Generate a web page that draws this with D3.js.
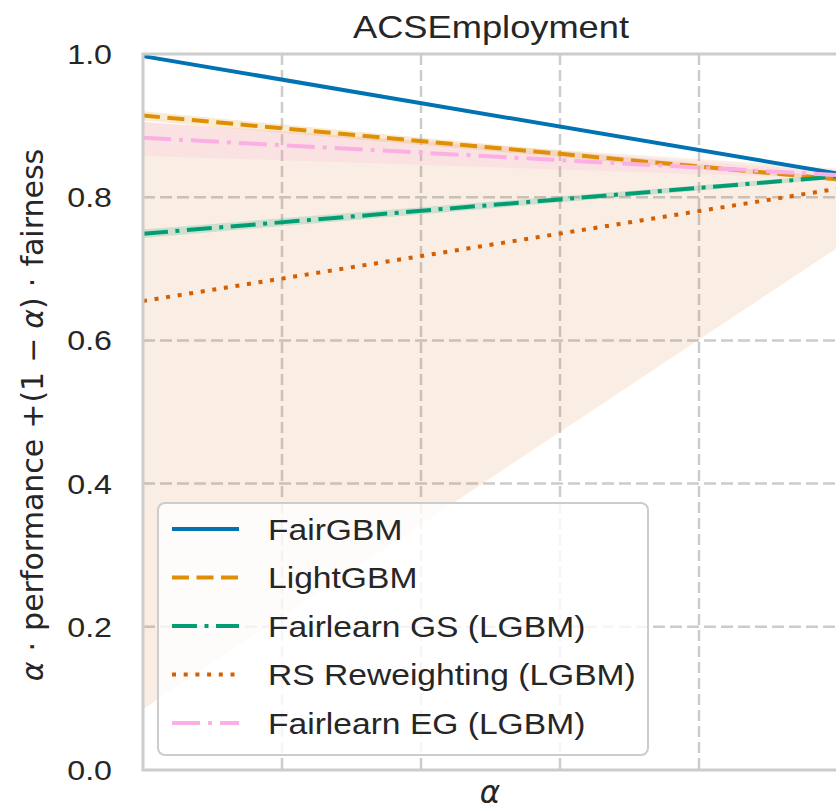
<!DOCTYPE html>
<html>
<head>
<meta charset="utf-8">
<script src="https://cdn.jsdelivr.net/npm/d3@7"></script>
<style>
  html, body { margin: 0; padding: 0; background: #fff; }
  svg { display: block; font-family: "Liberation Sans", Arial, sans-serif; }
</style>
</head>
<body>
<svg id="chart" width="836" height="811"></svg>
<script>
// values read at alpha = 0 and alpha = 1
const alphas = [0, 1];
const seriesNames = ["FairGBM", "LightGBM", "Fairlearn GS (LGBM)", "RS Reweighting (LGBM)", "Fairlearn EG (LGBM)"];
const fairgbmMean = [0.997, 0.833];
const fairgbmLo = [0.995, 0.831];
const fairgbmHi = [0.999, 0.835];
const lightgbmMean = [0.914, 0.825];
const lightgbmLo = [0.907, 0.822];
const lightgbmHi = [0.92, 0.828];
const gsMean = [0.749, 0.829];
const gsLo = [0.743, 0.826];
const gsHi = [0.755, 0.832];
const rsMean = [0.655, 0.812];
const rsLo = [0.085, 0.73];
const rsHi = [0.905, 0.84];
const egMean = [0.883, 0.831];
const egLo = [0.858, 0.826];
const egHi = [0.905, 0.836];
const yTicks = [0.0, 0.2, 0.4, 0.6, 0.8, 1.0];
const xGrid = [0.2, 0.4, 0.6, 0.8];

const colors = ["#0173b2", "#de8f05", "#029e73", "#d55e00", "#fbafe4"];
const dashes = [null, "17,7.5", "25,7.5,4,7.5", "4,7.7", "28,8,4,8"];

const series = [
  { mean: fairgbmMean, lo: fairgbmLo, hi: fairgbmHi },
  { mean: lightgbmMean, lo: lightgbmLo, hi: lightgbmHi },
  { mean: gsMean, lo: gsLo, hi: gsHi },
  { mean: rsMean, lo: rsLo, hi: rsHi },
  { mean: egMean, lo: egLo, hi: egHi }
].map((s, i) => ({ ...s, name: seriesNames[i], color: colors[i], dash: dashes[i] }));

const pLeft = 143, pRight = 838, pTop = 54, pBottom = 770;

const x = d3.scaleLinear().domain([0, 1]).range([pLeft, pRight]);
const y = d3.scaleLinear().domain([0, 1]).range([pBottom, pTop]);

const svg = d3.select("#chart");
const textCol = "#262626";

// text is a bit wider in the picture than plain Arial
function htext(g, xx, yy, str, size, anchor, sx) {
  return g.append("text")
    .attr("transform", `translate(${xx},${yy}) scale(${sx},1)`)
    .attr("text-anchor", anchor)
    .attr("font-size", size)
    .attr("fill", textCol)
    .text(str);
}

// grid
const grid = svg.append("g");
grid.selectAll("line.h").data(yTicks.slice(1, -1)).join("line")
  .attr("x1", pLeft).attr("x2", pRight)
  .attr("y1", d => y(d)).attr("y2", d => y(d))
  .attr("stroke", "#cccccc").attr("stroke-width", 2.5).attr("stroke-dasharray", "12,5");
grid.selectAll("line.v").data(xGrid).join("line")
  .attr("x1", d => x(d)).attr("x2", d => x(d))
  .attr("y1", pTop).attr("y2", pBottom)
  .attr("stroke", "#cccccc").attr("stroke-width", 2.5).attr("stroke-dasharray", "11,5");

// bands
const area = d3.area()
  .x(d => x(d.a)).y0(d => y(d.lo)).y1(d => y(d.hi));
const bandOrder = [3, 1, 2, 4, 0];
bandOrder.forEach(i => {
  const s = series[i];
  const pts = alphas.map((a, k) => ({ a, lo: s.lo[k], hi: s.hi[k] }));
  svg.append("path").datum(pts)
    .attr("d", area)
    .attr("fill", s.color)
    .attr("fill-opacity", i === 3 ? 0.11 : 0.18);
});

// lines
const line = d3.line().x(d => x(d.a)).y(d => y(d.v));
series.forEach(s => {
  const pts = alphas.map((a, k) => ({ a, v: s.mean[k] }));
  svg.append("path").datum(pts)
    .attr("d", line)
    .attr("fill", "none")
    .attr("stroke", s.color)
    .attr("stroke-width", 4)
    .attr("stroke-dasharray", s.dash);
});

// frame
svg.append("rect")
  .attr("x", pLeft).attr("y", pTop)
  .attr("width", pRight - pLeft).attr("height", pBottom - pTop)
  .attr("fill", "none").attr("stroke", "#cccccc").attr("stroke-width", 3);

// y tick labels
yTicks.forEach(t => {
  htext(svg, 112, y(t) + 10, t.toFixed(1), 28, "end", 1.15);
});

// title
htext(svg, 491, 38, "ACSEmployment", 31, "middle", 1.17);

// x label
svg.append("text")
  .attr("x", 490).attr("y", 803)
  .attr("text-anchor", "middle")
  .attr("font-size", 31)
  .attr("font-style", "italic")
  .attr("font-family", "DejaVu Sans")
  .attr("fill", textCol)
  .text("α");

// y label (mathtext style, DejaVu Sans)
const yl = svg.append("text")
  .attr("transform", `translate(43,415) rotate(-90)`)
  .attr("text-anchor", "middle")
  .attr("font-size", 30)
  .attr("font-family", "DejaVu Sans")
  .attr("fill", textCol);
const parts = [
  ["α", true, 0], ["·", false, 10], ["performance", false, 11], ["+", false, 10],
  ["(", false, 1], ["1", false, 0], ["−", false, 9], ["α", true, 9],
  [")", false, 0], ["·", false, 10], ["fairness", false, 11]
];
parts.forEach(([str, it, dx]) => {
  yl.append("tspan").attr("dx", dx).attr("font-style", it ? "italic" : null).text(str);
});

// legend
const leg = svg.append("g");
leg.append("rect")
  .attr("x", 158).attr("y", 503).attr("width", 490).attr("height", 252)
  .attr("rx", 7).attr("ry", 7)
  .attr("fill", "#ffffff").attr("fill-opacity", 0.8)
  .attr("stroke", "#cccccc").attr("stroke-width", 2);
series.forEach((s, i) => {
  const cy = 529 + i * 48.5;
  leg.append("line")
    .attr("x1", 172).attr("x2", 239).attr("y1", cy).attr("y2", cy)
    .attr("stroke", s.color).attr("stroke-width", 4)
    .attr("stroke-dasharray", s.dash);
  htext(leg, 268, cy + 10.5, s.name, 30, "start", 1.12);
});
</script>
</body>
</html>
